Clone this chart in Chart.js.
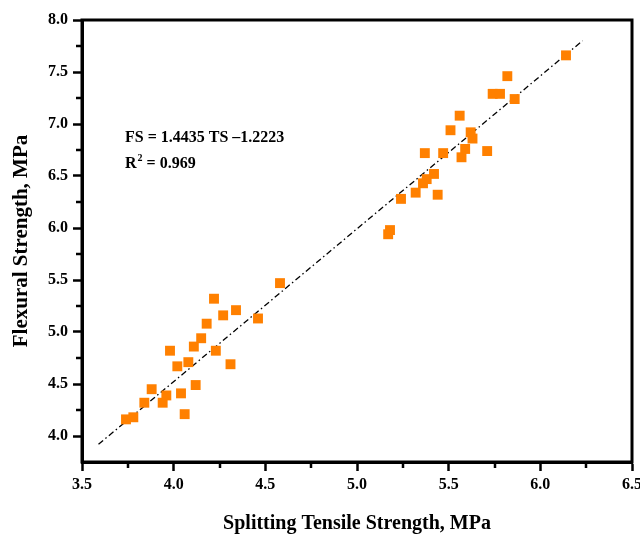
<!DOCTYPE html>
<html>
<head>
<meta charset="utf-8">
<script src="https://cdn.jsdelivr.net/npm/chart.js@4.4.0/dist/chart.umd.min.js"></script>
<style>
html, body { margin: 0; padding: 0; background: #fff; }
#wrap { width: 640px; height: 536px; }
</style>
</head>
<body>
<div id="wrap"><canvas id="fsChart"></canvas></div>
<script>
// measured points (splitting tensile vs flexural strength, MPa)
var tsValues = [3.74, 3.78, 3.84, 3.88, 3.94, 3.96, 3.98, 4.02, 4.04, 4.06, 4.08,
  4.11, 4.12, 4.15, 4.18, 4.22, 4.23, 4.27, 4.31, 4.34, 4.46, 4.58,
  5.17, 5.18, 5.24, 5.32, 5.36, 5.37, 5.38, 5.42, 5.44, 5.47, 5.51,
  5.56, 5.57, 5.59, 5.62, 5.63, 5.71, 5.74, 5.78, 5.82, 5.86, 6.14];
var fsValues = [4.16, 4.18, 4.32, 4.45, 4.32, 4.39, 4.82, 4.67, 4.41, 4.21, 4.71,
  4.86, 4.49, 4.94, 5.08, 5.32, 4.82, 5.16, 4.69, 5.21, 5.13, 5.47,
  5.94, 5.98, 6.28, 6.34, 6.43, 6.72, 6.47, 6.52, 6.32, 6.72, 6.94,
  7.08, 6.68, 6.76, 6.92, 6.86, 6.74, 7.29, 7.29, 7.46, 7.24, 7.66];

// regression line end points
var fitTS = [3.59, 6.23];
var fitFS = [3.92, 7.80];

var eqText = 'FS = 1.4435 TS \u20131.2223';
var r2Text = ['R', '2', ' = 0.969'];

var xTickLabels = ['3.5', '4.0', '4.5', '5.0', '5.5', '6.0', '6.5'];
var yTickLabels = ['4.0', '4.5', '5.0', '5.5', '6.0', '6.5', '7.0', '7.5', '8.0'];

var points = [];
for (var i = 0; i < tsValues.length; ++i) {
  points.push({x: tsValues[i], y: fsValues[i]});
}
var fitPoints = [];
for (var i = 0; i < fitTS.length; ++i) {
  fitPoints.push({x: fitTS[i], y: fitFS[i]});
}

function isMajor(value) {
  return Math.abs(value * 2 - Math.round(value * 2)) < 1e-6;
}

function tickLabel(list) {
  return function (value) {
    var s = Number(value).toFixed(1);
    if (!isMajor(value)) return '';
    return list.indexOf(s) >= 0 ? s : '';
  };
}

function majorTickColor(c) {
  return (c.tick && isMajor(c.tick.value)) ? '#000' : 'rgba(0,0,0,0)';
}

var frameAndText = {
  id: 'frameAndText',
  afterDraw: function (chart) {
    var ctx = chart.ctx;
    var a = chart.chartArea;
    ctx.save();
    // minor ticks, shorter than the major ones
    ctx.strokeStyle = '#000';
    ctx.lineWidth = 2.5;
    var xs = chart.scales.x, ys = chart.scales.y;
    xs.ticks.forEach(function (t) {
      if (isMajor(t.value)) return;
      var px = Math.round(xs.getPixelForValue(t.value));
      ctx.beginPath();
      ctx.moveTo(px, a.bottom);
      ctx.lineTo(px, a.bottom + 6);
      ctx.stroke();
    });
    ys.ticks.forEach(function (t) {
      if (isMajor(t.value) || t.value <= ys.min) return;
      var py = Math.round(ys.getPixelForValue(t.value));
      ctx.beginPath();
      ctx.moveTo(a.left, py);
      ctx.lineTo(a.left - 6, py);
      ctx.stroke();
    });
    // frame
    ctx.lineWidth = 3;
    ctx.strokeRect(a.left, a.top, a.right - a.left, a.bottom - a.top);
    // equation
    ctx.fillStyle = '#000';
    ctx.textBaseline = 'alphabetic';
    ctx.font = 'bold 16px "Liberation Serif"';
    ctx.fillText(eqText, 125, 142);
    var x = 125;
    ctx.fillText(r2Text[0], x, 168);
    x += ctx.measureText(r2Text[0]).width + 1;
    ctx.font = 'bold 10px "Liberation Serif"';
    ctx.fillText(r2Text[1], x, 161);
    x += ctx.measureText(r2Text[1]).width;
    ctx.font = 'bold 16px "Liberation Serif"';
    ctx.fillText(r2Text[2], x, 168);
    ctx.restore();
  }
};

var tickFont = {family: 'Liberation Serif', size: 16, weight: 'bold'};

var ctx = document.getElementById('fsChart');
var fsChart = new Chart(ctx, {
  type: 'scatter',
  data: {
    datasets: [{
      label: 'Data',
      data: points,
      pointStyle: 'rect',
      pointRadius: 7,
      pointHoverRadius: 7,
      backgroundColor: '#FF8000',
      borderColor: '#FF8000',
      borderWidth: 0
    }, {
      label: 'Fit',
      data: fitPoints,
      showLine: true,
      pointRadius: 0,
      borderColor: '#000',
      borderWidth: 1.3,
      borderDash: [6, 3, 1.5, 3],
      fill: false
    }]
  },
  plugins: [frameAndText],
  options: {
    responsive: true,
    maintainAspectRatio: false,
    animation: false,
    layout: {padding: {left: 0, right: 0, top: 20, bottom: 0}},
    plugins: {
      legend: {display: false},
      tooltip: {enabled: false}
    },
    scales: {
      x: {
        type: 'linear',
        min: 3.5,
        max: 6.5,
        ticks: {
          stepSize: 0.25,
          autoSkip: false,
          maxRotation: 0,
          color: '#000',
          font: tickFont,
          padding: 4,
          callback: tickLabel(xTickLabels)
        },
        grid: {drawOnChartArea: false, drawTicks: true, tickLength: 9, tickColor: majorTickColor, tickWidth: 2.5},
        border: {display: true, color: '#000', width: 3},
        title: {display: true, text: 'Splitting Tensile Strength, MPa', color: '#000',
          font: {family: 'Liberation Serif', size: 20, weight: 'bold'}, padding: {top: 16, bottom: 0}},
        afterFit: function (scale) { scale.height = 74; scale.paddingRight = 8; }
      },
      y: {
        type: 'linear',
        min: 3.75,
        max: 8.0,
        ticks: {
          stepSize: 0.25,
          autoSkip: false,
          color: '#000',
          font: tickFont,
          padding: 5,
          callback: tickLabel(yTickLabels)
        },
        grid: {drawOnChartArea: false, drawTicks: true, tickLength: 9, tickColor: majorTickColor, tickWidth: 2.5},
        border: {display: true, color: '#000', width: 3},
        title: {display: true, text: 'Flexural Strength, MPa', color: '#000',
          font: {family: 'Liberation Serif', size: 21, weight: 'bold'}, padding: {top: 9, bottom: 0}},
        afterFit: function (scale) { scale.width = 82; }
      }
    }
  }
});
</script>
</body>
</html>
